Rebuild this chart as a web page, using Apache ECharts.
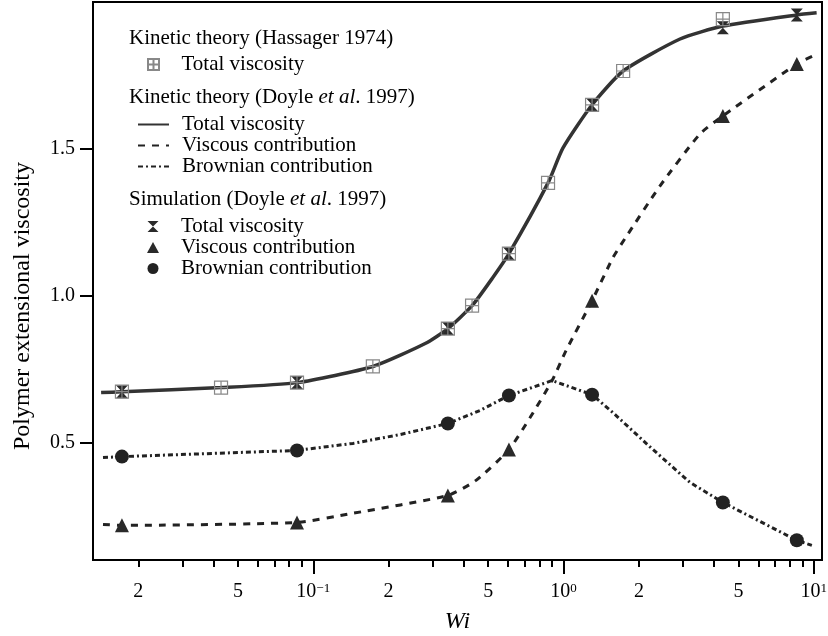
<!DOCTYPE html>
<html>
<head>
<meta charset="utf-8">
<script src="https://cdn.jsdelivr.net/npm/echarts@6/dist/echarts.min.js"></script>
<style>
html,body{margin:0;padding:0;background:#fff;}
#chart{width:828px;height:636px;}
</style>
</head>
<body>
<div id="chart"></div>
<script>
// ---- data ----
const wiSim = [0.0172, 0.0861, 0.345, 0.605, 1.30, 4.33, 8.55];
const simTotal = [0.673, 0.704, 0.888, 1.143, 1.650, 1.912, 1.956];
const simViscous = [0.218, 0.228, 0.320, 0.476, 0.983, 1.612, 1.789];
const simBrownian = [0.452, 0.473, 0.565, 0.660, 0.663, 0.296, 0.167];

const wiHassager = [0.0172, 0.0428, 0.0861, 0.173, 0.345, 0.431, 0.605, 0.867, 1.30, 1.73, 4.33];
const hassagerTotal = [0.673, 0.687, 0.704, 0.759, 0.888, 0.966, 1.143, 1.384, 1.650, 1.765, 1.942];

const wiTheoryTotal = [0.0142, 0.0172, 0.0428, 0.0861, 0.173, 0.280, 0.345, 0.431, 0.521, 0.605, 0.867, 0.995, 1.30, 1.73, 2.92, 4.33, 8.55, 10.26];
const theoryTotal = [0.670, 0.673, 0.687, 0.704, 0.759, 0.837, 0.888, 0.966, 1.061, 1.143, 1.384, 1.503, 1.650, 1.765, 1.874, 1.918, 1.956, 1.963];

const wiTheoryViscous = [0.01445, 0.0172, 0.0861, 0.144, 0.345, 0.447, 0.605, 0.735, 0.900, 1.023, 1.30, 1.574, 1.758, 2.43, 3.51, 4.33, 8.55, 9.91];
const theoryViscous = [0.221, 0.218, 0.228, 0.259, 0.320, 0.371, 0.476, 0.585, 0.711, 0.813, 0.983, 1.129, 1.194, 1.374, 1.551, 1.612, 1.789, 1.816];

const wiTheoryBrownian = [0.01445, 0.0172, 0.0861, 0.144, 0.222, 0.345, 0.463, 0.605, 0.900, 1.30, 1.574, 2.21, 3.20, 4.33, 8.55, 9.82];
const theoryBrownian = [0.449, 0.452, 0.473, 0.497, 0.527, 0.565, 0.609, 0.660, 0.711, 0.663, 0.602, 0.486, 0.364, 0.296, 0.167, 0.150];

const xLabelValues = [0.02, 0.05, 0.1, 0.2, 0.5, 1, 2, 5, 10];
const xLabelTexts = ['2', '5', '{b|10}{s|\u22121}', '2', '5', '{b|10}{s|0}', '2', '5', '{b|10}{s|1}'];
const xMajorTicks = [0.1, 1, 10];
const xMinorTicks = [0.02,0.03,0.04,0.05,0.06,0.07,0.08,0.09,0.2,0.3,0.4,0.5,0.6,0.7,0.8,0.9,2,3,4,5,6,7,8,9];
const yTickValues = [0.5, 1.0, 1.5];

const legendNames = {
  hTotal: 'Total viscosity',
  tTotal: 'Total viscosity',
  tViscous: 'Viscous contribution',
  tBrownian: 'Brownian contribution',
  sTotal: 'Total viscosity',
  sViscous: 'Viscous contribution',
  sBrownian: 'Brownian contribution'
};
const headers = ['Kinetic theory (Hassager 1974)', 'Kinetic theory (Doyle {i|et al}. 1997)', 'Simulation (Doyle {i|et al}. 1997)'];

function pairs(xs, ys) { return xs.map((x, i) => [x, ys[i]]); }

const FONT = '"Liberation Serif", "Times New Roman", serif';
const XMIN = 0.01318, XMAX = 10.78;

const chart = echarts.init(document.getElementById('chart'), null, {renderer: 'canvas'});

function xLabelFmt(v) {
  for (let i = 0; i < xLabelValues.length; i++) {
    if (Math.abs(v - xLabelValues[i]) / xLabelValues[i] < 1e-6) return xLabelTexts[i];
  }
  return '';
}

const squareGrid = 'path://M0,0H10V10H0Z M5,0V10 M0,5H10';
const hourglass = 'path://M0,0L10,0L0,10L10,10Z';

const legendText = pad => ({fontFamily: FONT, fontSize: 21, color: '#000', lineHeight: 21, padding: [0, 0, 0, pad]});

const lineLegend = {
  orient: 'vertical', left: 132, itemWidth: 31, itemHeight: 11, itemGap: 0, selectedMode: false,
  formatter: n => legendNames[n], textStyle: legendText(8),
  itemStyle: {color: 'rgba(0,0,0,0)', borderColor: 'rgba(0,0,0,0)', borderWidth: 0, opacity: 0}
};
const markLegend = {
  orient: 'vertical', left: 142, itemWidth: 12, itemHeight: 11, itemGap: 0, selectedMode: false,
  formatter: n => legendNames[n], textStyle: legendText(17)
};

const titleCommon = (text, top) => ({
  text: text,
  left: 124,
  top: top,
  textStyle: {fontFamily: FONT, fontSize: 21, fontWeight: 'normal', color: '#000', lineHeight: 22,
    rich: {i: {fontFamily: FONT, fontSize: 21, fontStyle: 'italic', color: '#000', lineHeight: 22}}}
});

const option = {
  animation: false,
  backgroundColor: '#fff',
  title: [
    titleCommon(headers[0], 22),
    titleCommon(headers[1], 81),
    titleCommon(headers[2], 183)
  ],
  legend: [
    Object.assign({}, markLegend, {top: 49, data: ['hTotal']}),
    Object.assign({}, lineLegend, {top: 109, data: ['tTotal', 'tViscous', 'tBrownian']}),
    Object.assign({}, markLegend, {top: 211, data: ['sTotal', 'sViscous', 'sBrownian']})
  ],
  grid: {left: 93, right: 6, top: 2, bottom: 76, show: true, borderColor: '#000', borderWidth: 2,
    backgroundColor: 'transparent', containLabel: false, outerBoundsMode: 'none'},
  xAxis: [
    {
      type: 'log', logBase: 10, min: XMIN, max: XMAX, position: 'bottom',
      name: 'Wi', nameLocation: 'middle', nameGap: 50,
      nameTextStyle: {fontFamily: FONT, fontSize: 24, fontStyle: 'italic', color: '#000'},
      axisLine: {show: true, lineStyle: {color: '#000', width: 2}},
      axisTick: {show: true, inside: false, length: 14, lineStyle: {color: '#000', width: 2}, customValues: xMajorTicks},
      axisLabel: {show: true, margin: 22, customValues: xLabelValues, formatter: xLabelFmt, color: '#000',
        fontFamily: FONT, fontSize: 20,
        rich: {b: {fontFamily: FONT, fontSize: 20, color: '#000'}, s: {fontFamily: FONT, fontSize: 13, color: '#000', verticalAlign: 'top', lineHeight: 13}}},
      splitLine: {show: false}, minorTick: {show: false}, minorSplitLine: {show: false}
    },
    {
      type: 'log', logBase: 10, min: XMIN, max: XMAX, position: 'bottom', offset: 0,
      axisLine: {show: false},
      axisTick: {show: true, inside: false, length: 7, lineStyle: {color: '#000', width: 2}, customValues: xMinorTicks},
      axisLabel: {show: false},
      splitLine: {show: false}
    }
  ],
  yAxis: {
    type: 'value', min: 0.1, max: 2.0,
    name: 'Polymer extensional viscosity', nameLocation: 'middle', nameGap: 58,
    nameTextStyle: {fontFamily: FONT, fontSize: 24, color: '#000', padding: [0, 50, 0, 0]},
    axisLine: {show: true, lineStyle: {color: '#000', width: 2}},
    axisTick: {show: true, inside: false, length: 13, lineStyle: {color: '#000', width: 2}, customValues: yTickValues},
    axisLabel: {show: true, margin: 18, customValues: yTickValues, formatter: v => v.toFixed(1), color: '#000', fontFamily: FONT, fontSize: 20},
    splitLine: {show: false}
  },
  series: [
    {
      name: 'tTotal', type: 'line', data: pairs(wiTheoryTotal, theoryTotal), symbol: 'none', smooth: 0.2,
      lineStyle: {color: '#333', width: 3.5, type: 'solid'}, itemStyle: {color: '#333'}, z: 2
    },
    {
      name: 'tViscous', type: 'line', data: pairs(wiTheoryViscous, theoryViscous), symbol: 'none', smooth: 0.2,
      lineStyle: {color: '#222', width: 3, type: [7, 7]}, itemStyle: {color: '#222'}, z: 2
    },
    {
      name: 'tBrownian', type: 'line', data: pairs(wiTheoryBrownian, theoryBrownian), symbol: 'none', smooth: false,
      lineStyle: {color: '#222', width: 3, type: [5, 3, 2, 3]}, itemStyle: {color: '#222'}, z: 2
    },
    {
      name: 'sTotal', type: 'scatter', data: pairs(wiSim, simTotal), symbol: hourglass, symbolSize: [12, 13],
      itemStyle: {color: '#2a2a2a', opacity: 1}, z: 3
    },
    {
      name: 'sViscous', type: 'scatter', data: pairs(wiSim, simViscous), symbol: 'triangle', symbolSize: 14,
      itemStyle: {color: '#2a2a2a', opacity: 1}, z: 3
    },
    {
      name: 'sBrownian', type: 'scatter', data: pairs(wiSim, simBrownian), symbol: 'circle', symbolSize: 14,
      itemStyle: {color: '#222', opacity: 1}, z: 3
    },
    {
      name: 'hTotal', type: 'scatter', data: pairs(wiHassager, hassagerTotal), symbol: squareGrid, symbolSize: 13,
      itemStyle: {color: 'rgba(255,255,255,0)', borderColor: '#888', borderWidth: 1.2, opacity: 1}, z: 4
    }
  ]
};

chart.setOption(option);
</script>
</body>
</html>
